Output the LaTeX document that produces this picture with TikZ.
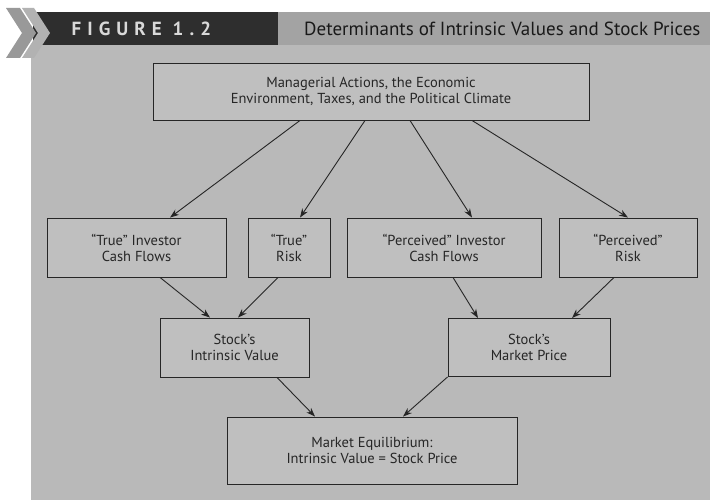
\documentclass[tikz,border=0pt]{standalone}
\usepackage{fontspec}
\setmainfont{PT Sans}
\newfontfamily\figfont[LetterSpace=32]{PT Sans}
\usetikzlibrary{arrows.meta}
\definecolor{panel}{HTML}{B9B9B9}
\definecolor{boxfill}{HTML}{BFBFBF}
\definecolor{band}{HTML}{A3A3A3}
\definecolor{darkband}{HTML}{2E2E2E}
\definecolor{ink}{HTML}{262626}
\tikzset{
  box/.style={draw=ink,line width=0.9pt,fill=boxfill,text=ink,align=center,
    font=\fontsize{14.5}{16}\selectfont,inner sep=0pt},
  arr/.style={draw=ink,line width=0.9pt,-{Stealth[length=9pt,width=6.5pt]}}
}
\begin{document}
\begin{tikzpicture}[x=1pt,y=-1pt]
  \useasboundingbox (0,0) rectangle (710,500);
  \fill[white] (0,0) rectangle (710,500);
  \fill[panel] (31,45) rectangle (710,500);
  \fill[band] (278,12) rectangle (710,45);
  \fill[darkband] (33,12) rectangle (278,45);
  \fill[gray!80] (6,8) -- (20,8) -- (36,33) -- (20,58) -- (6,58) -- (22,33) -- cycle;
  \fill[gray!60] (22,8) -- (34,8) -- (50,33) -- (34,58) -- (22,58) -- (38,33) -- cycle;
  \node[anchor=west,text=gray!30,font=\figfont\bfseries\fontsize{19}{19}\selectfont] (fig) at (68,29) {FIGURE 1.2};
  \node[anchor=east,text=black!90,font=\fontsize{19}{19}\selectfont] (title) at (704,29) {Determinants of Intrinsic Values and Stock Prices};

  \node[box,minimum width=436,minimum height=57] (mac) at (371,91.5) {Managerial Actions, the Economic\\Environment, Taxes, and the Political Climate};
  \node[box,minimum width=179,minimum height=59] (tcf) at (136.5,247.5) {``True'' Investor\\Cash Flows};
  \node[box,minimum width=82,minimum height=59] (trisk) at (289,247.5) {``True''\\Risk};
  \node[box,minimum width=194,minimum height=59] (pcf) at (444,247.5) {``Perceived'' Investor\\Cash Flows};
  \node[box,minimum width=138,minimum height=59] (prisk) at (628,247.5) {``Perceived''\\Risk};
  \node[box,minimum width=149,minimum height=59] (iv) at (234.5,347.5) {Stock's\\Intrinsic Value};
  \node[box,minimum width=162,minimum height=58] (mp) at (529,347.5) {Stock's\\Market Price};
  \node[box,minimum width=290,minimum height=67] (eq) at (372,450.5) {Market Equilibrium:\\Intrinsic Value = Stock Price};

  \draw[arr] ([xshift=-71]mac.south) -- ([xshift=33.5]tcf.north);
  \draw[arr] ([xshift=-6]mac.south) -- ([xshift=11]trisk.north);
  \draw[arr] ([xshift=39]mac.south) -- ([xshift=28]pcf.north);
  \draw[arr] ([xshift=101]mac.south) -- (prisk.north);
  \draw[arr] ([xshift=23.5]tcf.south) -- ([xshift=-24.5]iv.north);
  \draw[arr] ([xshift=-11]trisk.south) -- ([xshift=3.5]iv.north);
  \draw[arr] ([xshift=9]pcf.south) -- ([xshift=-51]mp.north);
  \draw[arr] ([xshift=-14]prisk.south) -- ([xshift=43]mp.north);
  \draw[arr] ([xshift=42.5]iv.south) -- ([xshift=-57]eq.north);
  \draw[arr] (mp.south west) -- ([xshift=31]eq.north);
\end{tikzpicture}
\end{document}
